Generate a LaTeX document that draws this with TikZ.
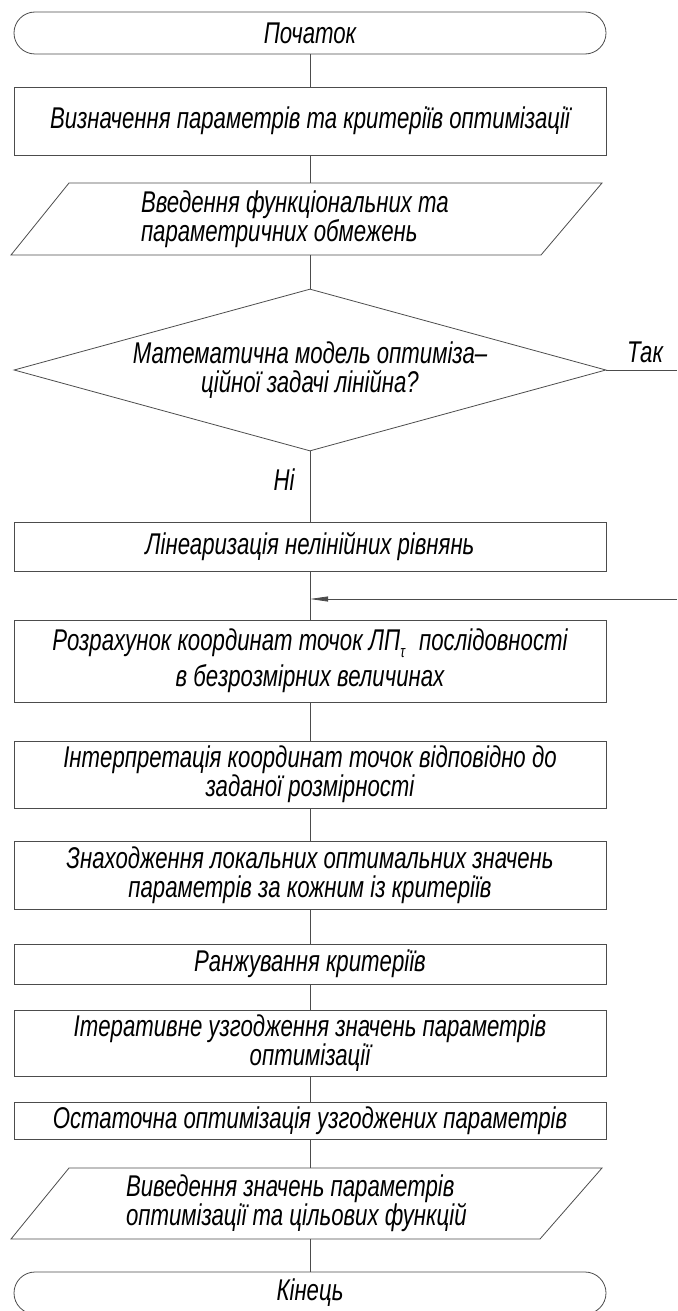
\documentclass[tikz,border=0pt]{standalone}
\usepackage{fontspec}
\setmainfont{Liberation Sans}[FakeStretch=0.74]
\usetikzlibrary{shapes.geometric,arrows.meta}
\tikzset{
  ln/.style={draw=black!70, line width=0.8pt},
  term/.style={ln, rectangle, rounded corners=21pt, minimum width=592pt, minimum height=42pt, inner sep=0pt},
  proc/.style={ln, rectangle, minimum width=592pt, inner sep=0pt, align=center},
  io/.style={rectangle, minimum width=532pt, inner sep=0pt, align=flush left},
  dec/.style={ln, diamond, minimum width=592pt, minimum height=162pt, inner sep=0pt, shape aspect=3.65, align=center},
  lbl/.style={inner sep=0pt},
  para/.style={ln},
}
\begin{document}
\begin{tikzpicture}[x=1pt,y=-1pt,font=\fontsize{30}{29}\selectfont\itshape]
\useasboundingbox (0,0) rectangle (677,1311);
% start
\node[term] (start) at (310,33) {Початок};
\node[proc, minimum height=68pt] (b1) at (310,121) {Визначення параметрів та критеріїв оптимізації};
% input parallelogram
\draw[para] (69,183) -- (602,183) -- (541,255) -- (11,255) -- cycle;
\node[io, minimum height=72pt, text width=338pt] (p1) at (310,219) {Введення функціональних та\\параметричних обмежень};
% decision
\node[dec] (dec) at (310,370) {Математична модель оптиміза–\\ційної задачі лінійна?};
\node[lbl] (yes) at (645,352) {Так};
\coordinate (yesend) at (677,370);
\node[lbl] (no) at (284,480) {Ні};
% linearization
\node[proc, minimum height=49pt] (lin) at (310,546.5) {Лінеаризація нелінійних рівнянь};
\coordinate (join) at (310,599);
\coordinate (yesin) at (677,599);
% steps
\node[proc, minimum height=82pt, font=\fontsize{30}{36}\selectfont\itshape] (r1) at (310,661) {Розрахунок координат точок ЛП\raisebox{-7pt}{\fontsize{17}{17}\selectfont τ}\hspace{8pt} послідовності\\в безрозмірних величинах};
\node[proc, minimum height=67pt] (r2) at (310,774.5) {Інтерпретація координат точок відповідно до\\заданої розмірності};
\node[proc, minimum height=68pt] (r3) at (310,875) {Знаходження локальних оптимальних значень\\параметрів за кожним із критеріїв};
\node[proc, minimum height=40pt] (r4) at (310,964) {Ранжування критеріїв};
\node[proc, minimum height=66pt] (r5) at (310,1043) {Ітеративне узгодження значень параметрів\\оптимізації};
\node[proc, minimum height=37pt] (r6) at (310,1120.5) {Остаточна оптимізація узгоджених параметрів};
% output parallelogram
\draw[para] (69,1168) -- (602,1168) -- (540,1239) -- (11,1239) -- cycle;
\node[io, minimum height=71pt, text width=368pt] (p2) at (310,1203.5) {Виведення значень параметрів\\оптимізації та цільових функцій};
% end
\node[term] (end) at (310,1293) {Кінець};
% connectors
\draw[ln] (start) -- (b1);
\draw[ln] (b1) -- (p1);
\draw[ln] (p1) -- (dec);
\draw[ln] (dec) -- (lin);
\draw[ln] (dec.east) -- (yesend);
\draw[ln] (lin) -- (r1);
\draw[ln, -{Triangle[length=18pt,width=5pt]}] (yesin) -- (join);
\draw[ln] (r1) -- (r2);
\draw[ln] (r2) -- (r3);
\draw[ln] (r3) -- (r4);
\draw[ln] (r4) -- (r5);
\draw[ln] (r5) -- (r6);
\draw[ln] (r6) -- (p2);
\draw[ln] (p2) -- (end);
\end{tikzpicture}
\end{document}
